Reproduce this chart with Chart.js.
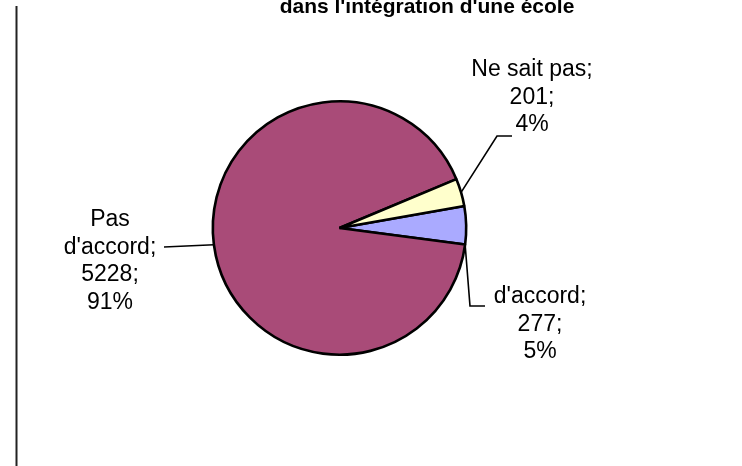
<!DOCTYPE html>
<html lang="fr">
<head>
    <meta charset="UTF-8">
    <title>Pie chart</title>
    <script src="https://cdn.jsdelivr.net/npm/chart.js"></script>
    <style>
        html, body { margin: 0; padding: 0; background: #fff; }
        #wrap { width: 742px; height: 466px; position: relative; }
    </style>
</head>
<body>
    <div id="wrap">
        <canvas id="pieChart" width="742" height="466"></canvas>
    </div>

    <script>
        // data
        const categories = ["d'accord", "Pas d'accord", "Ne sait pas"];
        const counts = [277, 5228, 201];
        const percents = [5, 91, 4];
        const sliceColors = ['#AAAAFF', '#A94B78', '#FFFFCC'];
        const titleText = "dans l'intégration d'une école";

        const FONT = '"Liberation Sans", Arial, sans-serif';

        // where each label sits and how its leader line runs
        const labelLayout = [
            { cx: 540, top: 303, wrap: 200, anchorAt: 1.0, leader: [[470, 306], [485, 306]] },
            { cx: 110, top: 226, wrap: 90, anchorAt: 0.5, leader: [[164, 247]] },
            { cx: 532, top: 76, wrap: 200, anchorAt: 0.5, leader: [[497, 136], [512, 136]] }
        ];
        const lineGap = 27.5;

        const wrapWords = (ctx, text, maxW) => {
            const words = text.split(' ');
            const lines = [];
            let cur = '';
            words.forEach((w) => {
                const test = cur ? cur + ' ' + w : w;
                if (cur && ctx.measureText(test).width > maxW) {
                    lines.push(cur);
                    cur = w;
                } else {
                    cur = test;
                }
            });
            lines.push(cur);
            return lines;
        };

        const sliceLabels = {
            id: 'sliceLabels',
            afterDatasetsDraw(chart) {
                const ctx = chart.ctx;
                const arcs = chart.getDatasetMeta(0).data;
                ctx.save();
                ctx.font = '23px ' + FONT;
                ctx.fillStyle = '#000';
                ctx.strokeStyle = '#000';
                ctx.lineWidth = 1.6;
                ctx.textAlign = 'center';
                ctx.textBaseline = 'alphabetic';
                arcs.forEach((arc, i) => {
                    const lay = labelLayout[i];
                    const p = arc.getProps(['x', 'y', 'outerRadius', 'startAngle', 'endAngle'], true);
                    const a = p.startAngle + (p.endAngle - p.startAngle) * lay.anchorAt;
                    const ax = p.x + Math.cos(a) * p.outerRadius;
                    const ay = p.y + Math.sin(a) * p.outerRadius;
                    ctx.beginPath();
                    ctx.moveTo(ax, ay);
                    lay.leader.forEach((pt) => ctx.lineTo(pt[0], pt[1]));
                    ctx.stroke();

                    const lines = wrapWords(ctx, categories[i] + ';', lay.wrap);
                    lines.push(counts[i] + ';');
                    lines.push(percents[i] + '%');
                    lines.forEach((t, k) => ctx.fillText(t, lay.cx, lay.top + k * lineGap));
                });
                ctx.restore();
            }
        };

        const frame = {
            id: 'frame',
            afterDraw(chart) {
                const ctx = chart.ctx;
                ctx.save();
                ctx.strokeStyle = '#222';
                ctx.lineWidth = 2;
                ctx.beginPath();
                ctx.moveTo(16.5, 6);
                ctx.lineTo(16.5, 466);
                ctx.stroke();
                ctx.font = 'bold 21px ' + FONT;
                ctx.fillStyle = '#000';
                ctx.textAlign = 'center';
                ctx.fillText(titleText, 427, 13);
                ctx.restore();
            }
        };

        const ctx = document.getElementById('pieChart').getContext('2d');
        const pieChart = new Chart(ctx, {
            type: 'pie',
            data: {
                labels: categories,
                datasets: [{
                    data: counts,
                    backgroundColor: sliceColors,
                    borderColor: '#000',
                    borderWidth: 2.6
                }]
            },
            options: {
                responsive: false,
                animation: false,
                devicePixelRatio: 1,
                rotation: 80,
                layout: { padding: { left: 211.5, right: 274.5, top: 100, bottom: 110 } },
                plugins: {
                    legend: { display: false },
                    tooltip: { enabled: false },
                    title: { display: false }
                }
            },
            plugins: [sliceLabels, frame]
        });
    </script>
</body>
</html>
